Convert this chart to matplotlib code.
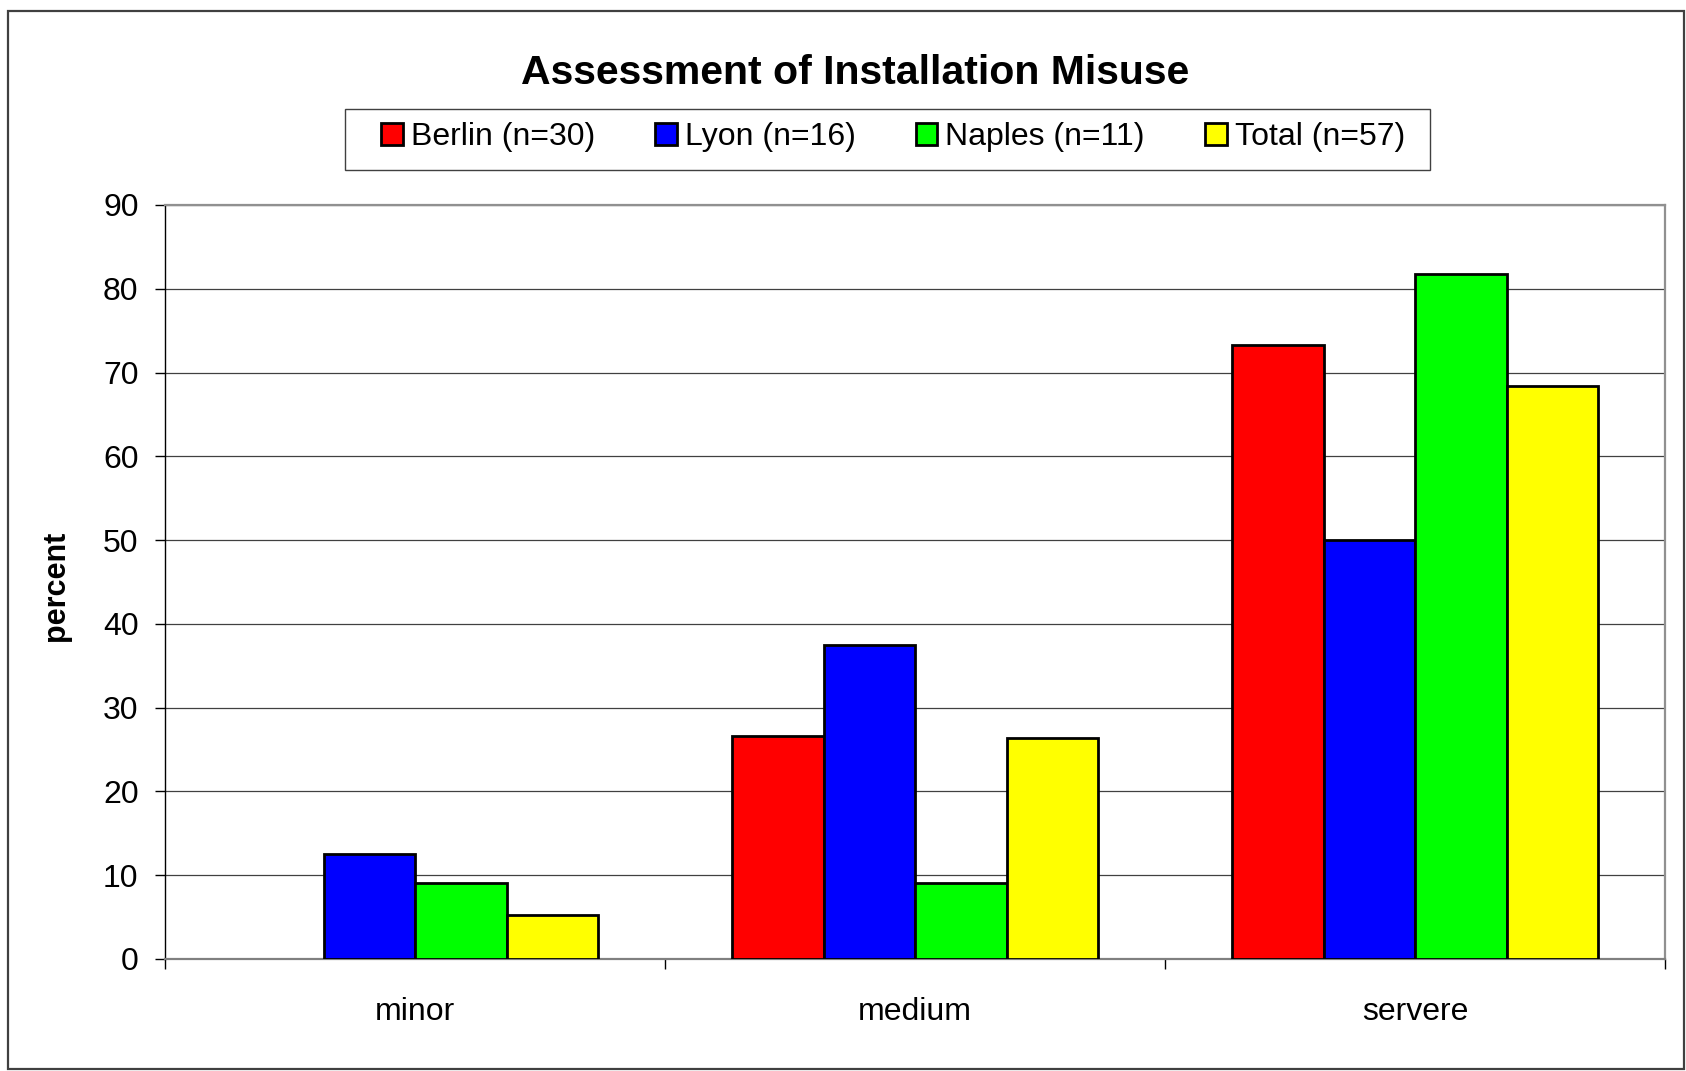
import matplotlib
matplotlib.use("Agg")
import matplotlib.pyplot as plt
import numpy as np
from matplotlib.patches import Rectangle, Patch

plt.rcParams['font.family'] = ['Liberation Sans', 'DejaVu Sans']

categories = ["minor", "medium", "servere"]
series = ["Berlin (n=30)", "Lyon (n=16)", "Naples (n=11)", "Total (n=57)"]
berlin = [0.0, 26.67, 73.33]
lyon = [12.5, 37.5, 50.0]
naples = [9.09, 9.09, 81.82]
total = [5.26, 26.32, 68.42]
colors = ["#FF0000", "#0000FF", "#00FF00", "#FFFF00"]

fig = plt.figure(figsize=(16.86, 10.71), dpi=100)
ax = fig.add_axes([165/1686, 1-959/1071, 1500/1686, 754/1071])

x = np.arange(len(categories))
w = 0.183
for i, (vals, c) in enumerate(zip([berlin, lyon, naples, total], colors)):
    vals = np.array(vals)
    keep = vals > 0  # a zero bar is not drawn at all
    ax.bar((x + (i - 1.5) * w)[keep], vals[keep], w, color=c,
           edgecolor='black', linewidth=2.0, zorder=3)

ax.set_xlim(-0.5, 2.5)
ax.set_ylim(0, 90)
ax.set_yticks(np.arange(0, 91, 10))
ax.yaxis.grid(True, color='#404040', linewidth=0.9, zorder=0)
ax.tick_params(axis='y', labelsize=23, length=7, width=1, pad=12, direction='out')

ax.set_xticks(x)
ax.set_xticklabels(categories)
ax.set_xticks([-0.5, 0.5, 1.5, 2.5], minor=True)
ax.tick_params(axis='x', which='major', length=0, labelsize=23, pad=27)
ax.tick_params(axis='x', which='minor', length=7, width=1, direction='out')

for s in ['top', 'right']:
    ax.spines[s].set_color('#909090')
    ax.spines[s].set_linewidth(1.6)
ax.spines['left'].set_color('black')
ax.spines['left'].set_linewidth(1.0)
ax.spines['bottom'].set_color('#808080')
ax.spines['bottom'].set_linewidth(1.6)

fig.text(855/1686, 1-73/1071, "Assessment of Installation Misuse",
         ha='center', va='center', fontsize=29.5, weight='bold')
fig.text(56/1686, 1-586/1071, "percent", rotation=90, ha='center',
         va='center', fontsize=22, weight='bold')

# legend entries without frame, box drawn separately (uneven padding)
handles = [Patch(facecolor=c, edgecolor='black', linewidth=2.0) for c in colors]
leg = fig.legend(handles, series, loc='center', ncol=4,
                 bbox_to_anchor=(893/1686, 1-137/1071), fontsize=23,
                 frameon=False, handlelength=0.68, handleheight=0.68,
                 handletextpad=0.25, columnspacing=1.88, borderpad=0,
                 borderaxespad=0)
fig.patches.append(Rectangle((345/1686, 1-170/1071), 1085/1686, 61/1071,
                             transform=fig.transFigure, fill=False,
                             edgecolor='#404040', linewidth=1.0))

fig.patches.append(Rectangle((8/1686, 2/1071), 1676/1686, 1058/1071,
                             transform=fig.transFigure, fill=False,
                             edgecolor='#404040', linewidth=1.6))

fig.savefig("out.png", dpi=100)
